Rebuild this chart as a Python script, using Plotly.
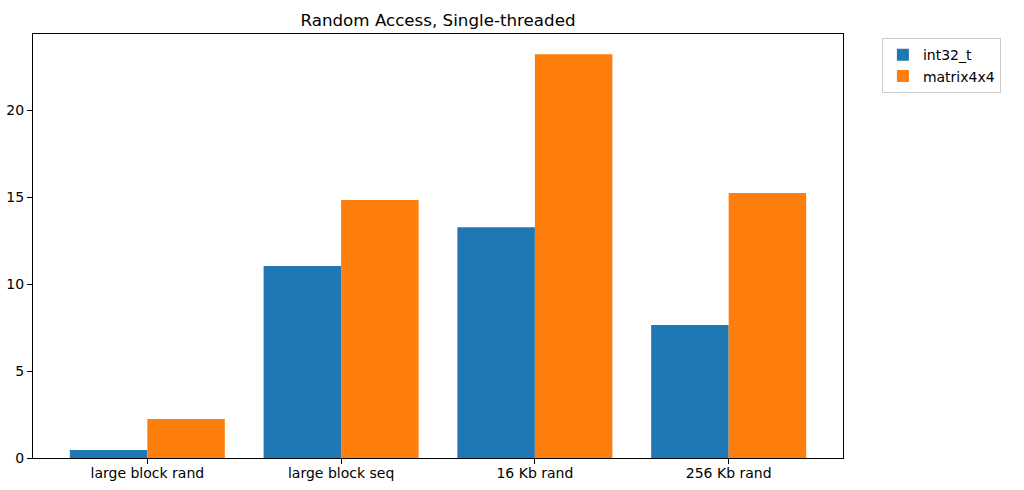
import plotly.graph_objects as go

categories = ["large block rand", "large block seq", "16 Kb rand", "256 Kb rand"]
int32_t_vals = [0.46, 11.04, 13.28, 7.65]
matrix4x4_vals = [2.24, 14.84, 23.23, 15.24]

W, H = 1024, 490

fig = go.Figure()
fig.add_trace(go.Bar(x=list(range(len(categories))), y=int32_t_vals, name="int32_t",
                     marker=dict(color="#1f77b4", line=dict(width=0))))
fig.add_trace(go.Bar(x=list(range(len(categories))), y=matrix4x4_vals, name="matrix4x4",
                     marker=dict(color="#ff7f0e", line=dict(width=0))))

fig.update_layout(
    width=W, height=H,
    barmode="group", bargap=0.2, bargroupgap=0,
    margin=dict(l=33, r=181, t=34, b=32, autoexpand=False),
    paper_bgcolor="white", plot_bgcolor="white",
    font=dict(family="DejaVu Sans", size=14, color="black"),
    title=dict(text="Random Access, Single-threaded", x=0.5, xref="paper", xanchor="center",
               y=1 - 20 / H, yref="container", yanchor="middle",
               font=dict(size=16.7, family="DejaVu Sans", color="black")),
    showlegend=True,
    legend=dict(x=1.048, y=0.99, xanchor="left", yanchor="top",
                bordercolor="#cccccc", borderwidth=1, bgcolor="white",
                font=dict(size=14, family="DejaVu Sans"), itemwidth=30),
    xaxis=dict(range=[-0.59, 3.59], tickmode="array", tickvals=list(range(len(categories))),
               ticktext=categories, showgrid=False, zeroline=False, automargin=False,
               showline=True, linecolor="black", linewidth=1, mirror=True,
               ticks="outside", ticklen=5, tickcolor="black", tickwidth=1,
               ticklabelstandoff=-3),
    yaxis=dict(range=[0, 24.39], tickvals=[0, 5, 10, 15, 20], showgrid=False, zeroline=False,
               automargin=False,
               showline=True, linecolor="black", linewidth=1, mirror=True,
               ticks="outside", ticklen=5, tickcolor="black", tickwidth=1),
)

fig.write_html("out.html", config={"displayModeBar": False},
               post_script="document.body.style.margin='0';document.body.style.overflow='hidden';")
